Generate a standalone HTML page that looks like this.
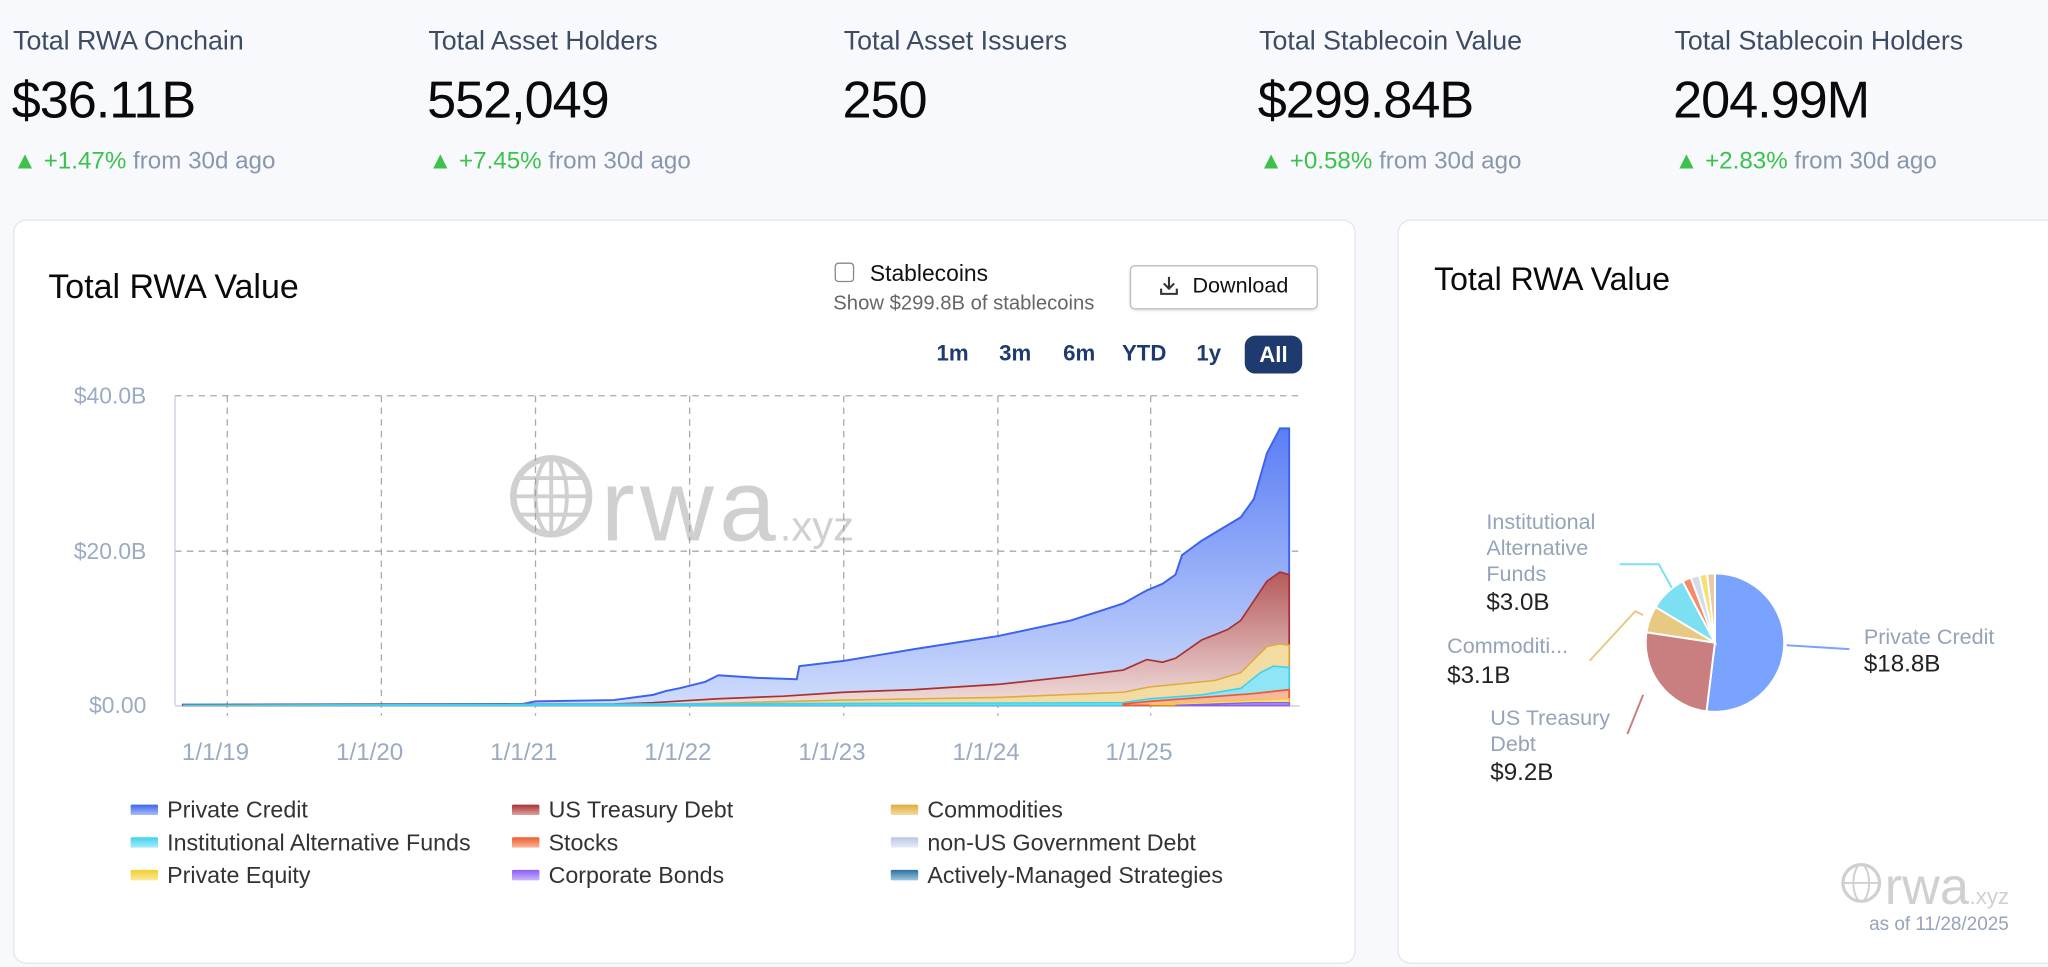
<!DOCTYPE html>
<html><head><meta charset="utf-8"><style>
html,body{margin:0;padding:0;width:2048px;height:966px;overflow:hidden;background:#f7f9fd;font-family:"Liberation Sans",sans-serif;}
#w{position:absolute;left:0;top:0;width:1568px;height:740px;transform:scale(1.30612);transform-origin:0 0;}
.a{position:absolute;white-space:nowrap;}
.lab{font-size:20.5px;color:#3d4b63;}
.val{font-size:40px;color:#0a0a0a;letter-spacing:-0.8px;}
.chg{font-size:18.5px;color:#8a97ab;}
.chg b{font-weight:normal;color:#3cc24a;}
.card{position:absolute;background:#fff;border:1px solid #e3e7ee;border-radius:10px;}
.rb{font-size:17px;font-weight:bold;color:#1e3a6e;}
.yl{font-size:17.5px;color:#9aabc2;text-align:right;width:80px;}
.xl{font-size:18.5px;color:#9aabc2;width:100px;text-align:center;}
.lg{font-size:17.8px;color:#333;}
.sw{position:absolute;width:21px;height:8px;border-radius:1px;}
.pl{font-size:16.5px;color:#96a3b8;line-height:20px;}
.pv{font-size:18.5px;color:#222;}
</style></head><body><div id="w">
<div class="a lab" style="left:10px;top:20px">Total RWA Onchain</div>
<div class="a lab" style="left:328px;top:20px">Total Asset Holders</div>
<div class="a lab" style="left:646px;top:20px">Total Asset Issuers</div>
<div class="a lab" style="left:964px;top:20px">Total Stablecoin Value</div>
<div class="a lab" style="left:1282px;top:20px">Total Stablecoin Holders</div>
<div class="a val" style="left:9px;top:55px">$36.11B</div>
<div class="a val" style="left:327px;top:55px">552,049</div>
<div class="a val" style="left:645px;top:55px">250</div>
<div class="a val" style="left:963px;top:55px">$299.84B</div>
<div class="a val" style="left:1281px;top:55px">204.99M</div>
<div class="a chg" style="left:10px;top:112px"><b>▲ +1.47%</b> from 30d ago</div>
<div class="a chg" style="left:328px;top:112px"><b>▲ +7.45%</b> from 30d ago</div>
<div class="a chg" style="left:964px;top:112px"><b>▲ +0.58%</b> from 30d ago</div>
<div class="a chg" style="left:1282px;top:112px"><b>▲ +2.83%</b> from 30d ago</div>

<div class="card" style="left:10px;top:168px;width:1026px;height:568px"></div>
<div class="card" style="left:1070px;top:168px;width:510px;height:568px"></div>

<div class="a" style="left:37px;top:204px;font-size:26px;color:#0a0a0a">Total RWA Value</div>
<div class="a" style="left:639px;top:201px;width:13px;height:13px;border:1.5px solid #888;border-radius:3px"></div>
<div class="a" style="left:666px;top:199px;font-size:17.5px;color:#111">Stablecoins</div>
<div class="a" style="left:638px;top:224px;font-size:15.5px;color:#666">Show $299.8B of stablecoins</div>
<div class="a" style="left:865px;top:203px;width:142px;height:32px;border:1px solid #bbb;border-radius:4px;box-shadow:0 1px 2px rgba(0,0,0,.1)"></div>
<svg class="a" style="left:886px;top:210px" width="18" height="18" viewBox="0 0 18 18"><path d="M9 2v9M5 7l4 4 4-4M3 11v4h12v-4" fill="none" stroke="#333" stroke-width="1.6"/></svg>
<div class="a" style="left:913px;top:210px;font-size:16.5px;color:#111">Download</div>
<div class="a rb" style="left:717px;top:261px">1m</div>
<div class="a rb" style="left:765px;top:261px">3m</div>
<div class="a rb" style="left:814px;top:261px">6m</div>
<div class="a rb" style="left:859px;top:261px">YTD</div>
<div class="a rb" style="left:916px;top:261px">1y</div>
<div class="a" style="left:953px;top:257px;width:44px;height:29px;background:#1e3a6e;border-radius:8px;color:#fff;font-size:17px;font-weight:bold;text-align:center;line-height:29px">All</div>

<div class="a yl" style="left:32px;top:293px">$40.0B</div>
<div class="a yl" style="left:32px;top:412px">$20.0B</div>
<div class="a yl" style="left:32px;top:530px">$0.00</div>
<div class="a xl" style="left:115px;top:565px">1/1/19</div>
<div class="a xl" style="left:233px;top:565px">1/1/20</div>
<div class="a xl" style="left:351px;top:565px">1/1/21</div>
<div class="a xl" style="left:469px;top:565px">1/1/22</div>
<div class="a xl" style="left:587px;top:565px">1/1/23</div>
<div class="a xl" style="left:705px;top:565px">1/1/24</div>
<div class="a xl" style="left:822px;top:565px">1/1/25</div>

<svg class="a" style="left:0;top:0" width="1040" height="600">
<defs>
<linearGradient id="gb" x1="0" y1="0" x2="0" y2="1"><stop offset="0" stop-color="#5a7ef5"/><stop offset="1" stop-color="#cfdcfc"/></linearGradient>
<linearGradient id="gr" x1="0" y1="0" x2="0" y2="1"><stop offset="0" stop-color="#b55a5a"/><stop offset="1" stop-color="#f1dede"/></linearGradient>
</defs>
<g stroke="#aaa" stroke-dasharray="5,4" stroke-width="1">
<line x1="134" y1="303" x2="995" y2="303"/><line x1="134" y1="422" x2="995" y2="422"/>
<line x1="174" y1="303" x2="174" y2="548"/><line x1="292" y1="303" x2="292" y2="548"/><line x1="410" y1="303" x2="410" y2="548"/><line x1="528" y1="303" x2="528" y2="548"/><line x1="646" y1="303" x2="646" y2="548"/><line x1="764" y1="303" x2="764" y2="548"/><line x1="881" y1="303" x2="881" y2="548"/>
</g>
<line x1="134" y1="303" x2="134" y2="540" stroke="#ccd" />
<line x1="134" y1="540.5" x2="995" y2="540.5" stroke="#ccd"/>
<g opacity="0.45">
<circle cx="422" cy="380" r="29" fill="none" stroke="#999" stroke-width="5"/>
<ellipse cx="422" cy="380" rx="12" ry="29" fill="none" stroke="#999" stroke-width="3"/>
<line x1="393" y1="380" x2="451" y2="380" stroke="#999" stroke-width="3"/><line x1="422" y1="351" x2="422" y2="409" stroke="#999" stroke-width="3"/>
<line x1="398" y1="366" x2="446" y2="366" stroke="#999" stroke-width="3"/><line x1="398" y1="394" x2="446" y2="394" stroke="#999" stroke-width="3"/>
<text x="460" y="414" font-family="Liberation Sans" font-size="78" fill="#999" textLength="134">rwa</text>
<text x="597" y="414" font-family="Liberation Sans" font-size="32" fill="#999">.xyz</text>
</g>
<path d="M140 539.5 L400 539 L410 537 L470 536 L500 532 L510 529 L520 527 L540 522 L550 517 L580 519 L610 520 L612 510 L646 506 L700 497 L764 487 L820 475 L860 462 L878 452 L890 447 L900 440 L905 425 L920 414 L950 396 L960 382 L970 347 L980 328 L987 328 L987 540 L140 540Z" fill="url(#gb)" stroke="#3d63ee" stroke-width="1.5"/>
<path d="M140 539.7 L470 539 L500 538 L550 535 L600 533 L646 530 L700 528 L764 524 L820 518 L860 513 L878 505 L890 507 L900 504 L910 497 L920 490 L930 486 L940 482 L950 475 L960 460 L970 445 L980 438 L987 440 L987 540 L140 540Z" fill="url(#gr)" stroke="#a83232" stroke-width="1.3"/>
<path d="M140 540 L500 539.5 L646 536 L764 534 L860 530 L880 526 L900 524 L930 521 L950 515 L960 505 L970 495 L980 493 L987 494 L987 540Z" fill="#f3dca2" stroke="#e0aa3e" stroke-width="1.2"/>
<path d="M140 540 L860 538 L880 535 L920 532 L950 527 L965 515 L975 510 L987 511 L987 540Z" fill="#8fe4f5" stroke="#3fd0ef" stroke-width="1.2"/>
<path d="M860 539 L880 537 L960 531 L987 528 L987 540 L860 540Z" fill="#f7b7a0" stroke="#f05a2a" stroke-width="1.3"/>
<path d="M880 539.5 L960 536 L987 535 L987 540Z" fill="#f5e27a" stroke="#f3cf2a" stroke-width="1"/>
<path d="M900 540 L960 538 L987 538 L987 540Z" fill="#b79cf7" stroke="#8b5cf6" stroke-width="1"/>
</svg>

<div class="sw" style="left:100px;top:616px;background:linear-gradient(#3d63ee,#a9bdf8)"></div><div class="a lg" style="left:128px;top:610px">Private Credit</div>
<div class="sw" style="left:392px;top:616px;background:linear-gradient(#a83232,#e0a0a0)"></div><div class="a lg" style="left:420px;top:610px">US Treasury Debt</div>
<div class="sw" style="left:682px;top:616px;background:linear-gradient(#e0aa3e,#f3dca2)"></div><div class="a lg" style="left:710px;top:610px">Commodities</div>
<div class="sw" style="left:100px;top:641px;background:linear-gradient(#3fd0ef,#a8ecf8)"></div><div class="a lg" style="left:128px;top:635px">Institutional Alternative Funds</div>
<div class="sw" style="left:392px;top:641px;background:linear-gradient(#f05a2a,#f7b7a0)"></div><div class="a lg" style="left:420px;top:635px">Stocks</div>
<div class="sw" style="left:682px;top:641px;background:linear-gradient(#b8c8e0,#e6edf7)"></div><div class="a lg" style="left:710px;top:635px">non-US Government Debt</div>
<div class="sw" style="left:100px;top:666px;background:linear-gradient(#f3cf2a,#f8e9a0)"></div><div class="a lg" style="left:128px;top:660px">Private Equity</div>
<div class="sw" style="left:392px;top:666px;background:linear-gradient(#8b5cf6,#c9b5fa)"></div><div class="a lg" style="left:420px;top:660px">Corporate Bonds</div>
<div class="sw" style="left:682px;top:666px;background:linear-gradient(#2a6fa0,#9cc6e0)"></div><div class="a lg" style="left:710px;top:660px">Actively-Managed Strategies</div>

<div class="a" style="left:1098px;top:201px;font-size:24.5px;color:#0a0a0a">Total RWA Value</div>

<svg class="a" style="left:1070px;top:168px" width="500" height="570">
<g transform="translate(243,324)" stroke="#fff" stroke-width="1.5">
<path d="M0 0 L0 -53 A53 53 0 1 1 -6.46 52.6Z" fill="#7aa2ff"/>
<path d="M0 0 L-6.46 52.6 A53 53 0 0 1 -52.4 -7.9Z" fill="#c97f7f"/>
<path d="M0 0 L-52.4 -7.9 A53 53 0 0 1 -45.5 -27.2Z" fill="#e8c982"/>
<path d="M0 0 L-45.5 -27.2 A53 53 0 0 1 -24.7 -46.9Z" fill="#7ddff2"/>
<path d="M0 0 L-24.7 -46.9 A53 53 0 0 1 -18.5 -49.7Z" fill="#f58a6a"/>
<path d="M0 0 L-18.5 -49.7 A53 53 0 0 1 -12 -51.6Z" fill="#d4dcec"/>
<path d="M0 0 L-12 -51.6 A53 53 0 0 1 -6 -52.7Z" fill="#f8e070"/>
<path d="M0 0 L-6 -52.7 A53 53 0 0 1 0 -53Z" fill="#e8c9a8"/>
</g>
<polyline points="298,326 346,329" fill="none" stroke="#7aa2ff" stroke-width="1.5"/>
<polyline points="170,264 200,264 210,282" fill="none" stroke="#7ddff2" stroke-width="1.5"/>
<polyline points="147,338 182,300 188,303" fill="none" stroke="#e8c982" stroke-width="1.5"/>
<polyline points="176,394 188,364" fill="none" stroke="#c97f7f" stroke-width="1.5"/>
<g opacity="0.45">
<circle cx="355" cy="508" r="14" fill="none" stroke="#999" stroke-width="2.5"/>
<ellipse cx="355" cy="508" rx="6" ry="14" fill="none" stroke="#999" stroke-width="1.5"/>
<line x1="341" y1="508" x2="369" y2="508" stroke="#999" stroke-width="1.5"/>
<text x="373" y="524" font-family="Liberation Sans" font-size="40" fill="#999">rwa</text>
<text x="438" y="524" font-family="Liberation Sans" font-size="17" fill="#999">.xyz</text>
</g>
</svg>
<div class="a pl" style="left:1138px;top:390px">Institutional<br>Alternative<br>Funds</div>
<div class="a pv" style="left:1138px;top:450px">$3.0B</div>
<div class="a pl" style="left:1108px;top:485px">Commoditi...</div>
<div class="a pv" style="left:1108px;top:506px">$3.1B</div>
<div class="a pl" style="left:1141px;top:540px">US Treasury<br>Debt</div>
<div class="a pv" style="left:1141px;top:580px">$9.2B</div>
<div class="a pl" style="left:1427px;top:478px">Private Credit</div>
<div class="a pv" style="left:1427px;top:497px">$18.8B</div>
<div class="a" style="left:1420px;top:700px;width:118px;text-align:right;font-size:14.5px;color:#96a3b8">as of 11/28/2025</div>
</div></body></html>
